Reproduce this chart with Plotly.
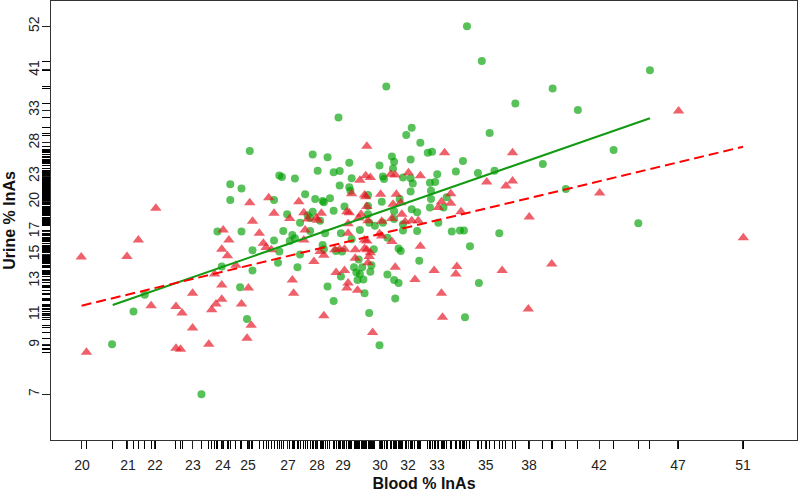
import plotly.graph_objects as go

# green circles: blood % InAs vs urine % InAs
green_blood = [25.2, 27.6, 28.2, 27.8, 26.3, 26.4, 26.9, 24.5, 24.9, 27.3, 24.5, 26.1, 27.7, 28.0, 28.05, 28.3,
               26.6, 27.1, 27.4, 27.6, 27.5, 27.9, 24.05, 24.9, 26.45, 26.8, 26.9, 27.5, 28.1, 26.1, 26.7, 25.3,
               26.3, 27.1, 28.0, 28.05, 26.25, 27.0, 25.3, 24.2, 24.85, 28.2,
               30.95, 31.05, 31.8, 32.6, 32.8, 34.3, 29.1, 30.4, 31.0, 28.45, 28.7, 29.2, 30.55, 30.6, 31.45, 31.8,
               33.05, 33.95, 31.9, 32.7, 32.95, 28.7, 29.1, 29.15, 31.8, 32.75, 29.9, 30.5, 31.3, 32.75, 33.5, 35.05,
               28.9, 29.9, 28.45, 29.9, 31.05, 31.85, 32.1, 32.7, 33.35, 31.05, 29.95, 30.2, 30.55, 31.45, 33.1, 28.75,
               29.55, 31.45, 32.1, 33.75, 34.15, 34.35, 29.2, 30.75, 30.15, 31.25, 31.35, 34.65, 28.55, 28.8, 32.2, 29.5,
               29.3, 29.65, 30.05, 29.4, 29.55, 30.0, 30.75, 28.75, 29.7, 29.45, 31.05, 31.25, 35.1, 29.75, 31.1,
               30.7, 28.65, 31.85, 31.6, 32.25, 35.25, 34.5, 44.95, 39.05, 37.0, 40.5, 35.65, 42.65, 38.5, 35.9, 39.8,
               44.2, 36.15, 25.1, 28.45, 29.95, 30.4, 34.4, 23.5, 21.65, 21.3, 20.65]
green_urine = [26.4, 25.9, 25.5, 23.7, 23.1, 22.9, 22.7, 22.0, 21.5, 20.85, 20.2, 20.2, 20.3, 20.1, 19.95, 20.4,
               18.7, 17.85, 18.6, 18.95, 18.3, 18.05, 17.0, 17.0, 17.05, 16.7, 16.4, 17.05, 16.85, 16.2, 16.15, 15.35,
               15.25, 15.0, 15.8, 15.45, 14.35, 14.0, 13.75, 14.05, 12.55, 12.6,
               25.6, 24.9, 25.2, 26.15, 26.3, 25.0, 24.75, 24.4, 24.0, 23.5, 23.65, 22.75, 22.95, 22.65, 22.85, 22.75,
               23.25, 23.6, 22.1, 22.2, 22.3, 21.85, 21.65, 21.25, 21.15, 21.25, 20.75, 20.0, 20.3, 20.3, 20.5, 23.4,
               19.5, 19.55, 19.05, 18.7, 19.0, 19.2, 18.9, 19.4, 19.4, 18.2, 17.85, 17.55, 17.85, 17.7, 17.85, 16.85,
               17.15, 17.1, 17.05, 17.0, 17.1, 17.1, 16.3, 16.45, 15.45, 15.5, 15.3, 15.7, 15.3, 15.25, 14.5, 14.6,
               14.0, 14.0, 14.15, 13.6, 13.5, 13.65, 13.45, 13.3, 13.1, 13.05, 13.05, 12.85, 12.85, 12.15, 11.8,
               37.5, 31.7, 29.95, 28.8, 27.6, 43.1, 52.1, 41.0, 37.1, 34.2, 33.0, 29.1, 26.55, 24.6, 23.7, 21.45,
               17.8, 16.85, 10.55, 11.65, 10.9, 9.15, 10.65, 7.0, 12.05, 11.0, 9.2]

# red triangles
red_blood = [25.2, 25.9, 27.05, 26.1, 26.7, 27.25, 27.4, 27.75, 27.8, 27.95, 25.3, 24.25, 25.55, 27.3, 24.45, 25.7,
             25.8, 27.25, 24.2, 24.4, 26.0, 27.9, 28.05, 27.65, 24.7, 23.95, 26.8, 24.2, 25.15, 26.85, 23.2, 24.2,
             33.4, 29.8, 30.0, 29.55, 30.9, 31.1, 31.7, 32.25, 29.2, 29.75, 29.8, 30.45, 31.15, 29.85, 31.0, 31.35,
             33.25, 33.7, 33.7, 33.1, 29.0, 29.1, 29.6, 29.5, 31.4, 31.55, 31.85, 32.15, 30.5, 30.95, 29.9, 29.05,
             34.2, 30.4, 30.5, 29.05, 29.75, 29.85, 30.95, 28.5, 28.7, 28.9, 29.35, 29.75, 29.85, 32.25, 30.0, 29.95,
             29.35, 29.9, 31.1, 32.9, 34.0, 33.95, 32.0, 28.55, 28.9, 29.05, 29.0, 29.45, 33.25,
             29.85, 46.85, 36.85, 35.5, 36.5, 36.85, 41.8, 37.75, 51.45, 36.3, 39.0, 37.7, 24.0, 23.85, 24.9, 22.85,
             23.2, 23.75, 25.1, 25.25, 28.05, 30.1, 33.3, 22.8, 22.0, 21.45, 19.75, 21.1, 21.85, 22.65, 19.9, 22.65]
red_urine = [19.9, 20.45, 20.0, 18.8, 18.25, 18.85, 18.2, 18.3, 18.1, 18.8, 18.0, 17.15, 16.85, 17.15, 16.25, 15.95,
             15.6, 16.25, 15.45, 14.9, 15.4, 15.25, 14.95, 14.45, 14.15, 13.5, 13.05, 12.7, 12.5, 12.15, 12.15, 11.75,
             26.15, 23.05, 22.85, 22.5, 23.25, 23.15, 23.45, 23.05, 20.9, 20.75, 20.55, 20.85, 20.85, 19.5, 19.75, 19.9,
             20.0, 20.9, 19.85, 19.4, 18.95, 18.85, 18.7, 18.3, 18.7, 17.95, 18.05, 18.05, 18.0, 18.25, 18.05, 17.75,
             18.95, 16.8, 16.6, 16.85, 16.25, 16.15, 16.1, 15.4, 15.45, 15.45, 15.4, 15.5, 15.4, 15.7, 15.15, 14.85,
             14.7, 14.35, 14.0, 13.75, 14.05, 13.5, 13.1, 13.6, 13.75, 12.85, 12.5, 12.35, 12.15,
             27.1, 32.85, 26.15, 22.3, 21.8, 22.4, 21.0, 18.4, 16.45, 13.75, 14.25, 11.15, 11.45, 11.1, 11.45, 10.9,
             10.05, 9.2, 9.5, 10.2, 10.75, 9.8, 10.65, 8.95, 19.3, 16.25, 14.8, 14.85, 11.35, 11.3, 8.8, 9.0]

# fitted lines (end points, log-log)
green_fit_blood = [20.67, 44.95]
green_fit_urine = [11.39, 31.55]
red_fit_blood = [19.76, 51.43]
red_fit_urine = [11.35, 27.02]

# axis ticks (true values, rounded labels)
x_tickvals = [19.77, 21.13, 21.97, 23.21, 24.24, 25.14, 26.63, 27.77, 28.84, 30.42, 31.68, 33.04, 35.45,
              37.74, 41.76, 46.81, 51.42]
x_ticktext = ["20", "21", "22", "23", "24", "25", "27", "28", "29", "30", "32", "33", "35", "38", "42", "47", "51"]
y_tickvals = [7.0, 9.16, 10.8, 13.0, 15.0, 17.0, 20.0, 23.0, 27.6, 33.0, 41.06, 52.1]
y_ticktext = ["7", "9", "11", "13", "15", "17", "20", "23", "28", "33", "41", "52"]

fig = go.Figure()
fig.add_trace(go.Scatter(x=green_blood, y=green_urine, mode="markers",
                         marker=dict(symbol="circle", size=8, color="rgba(0,160,0,0.65)", line_width=0)))
fig.add_trace(go.Scatter(x=red_blood, y=red_urine, mode="markers",
                         marker=dict(symbol="triangle-up", size=10, color="rgba(230,20,35,0.68)", line_width=0)))
fig.add_trace(go.Scatter(x=green_fit_blood, y=green_fit_urine, mode="lines",
                         line=dict(color="#129a12", width=2)))
fig.add_trace(go.Scatter(x=red_fit_blood, y=red_fit_urine, mode="lines",
                         line=dict(color="#ff0000", width=2, dash="10px,5px")))

axis_style = dict(type="log", showgrid=False, zeroline=False, showline=True, mirror=True,
                  linecolor="#333333", linewidth=1, ticks="outside", ticklen=8, tickcolor="#222222",
                  tickfont=dict(size=14, color="#222222"), automargin=False)

fig.update_layout(
    width=800, height=493,
    margin=dict(l=51, r=3, t=1, b=53),
    paper_bgcolor="white", plot_bgcolor="white",
    font=dict(family="Liberation Sans, Arial, sans-serif", color="#111111"),
    showlegend=False,
)
fig.update_xaxes(axis_style, range=[1.27657, 1.74509], tickmode="array", tickvals=x_tickvals, ticktext=x_ticktext,
                 ticklabelstandoff=4,
                 title=dict(text="<b>Blood % InAs</b>", font=dict(size=16), standoff=6),
                 # rug of all blood values
                 minor=dict(tickmode="array", tickvals=green_blood + red_blood, ticks="outside", ticklen=8,
                            tickcolor="black", tickwidth=1, showgrid=False))
fig.update_yaxes(axis_style, range=[0.73674, 1.77687], tickmode="array", tickvals=y_tickvals, ticktext=y_ticktext,
                 tickangle=-90, ticklabelstandoff=-3,
                 title=dict(text="<b>Urine % InAs</b>", font=dict(size=16), standoff=6),
                 # rug of all urine values
                 minor=dict(tickmode="array", tickvals=green_urine + red_urine, ticks="outside", ticklen=8,
                            tickcolor="black", tickwidth=1, showgrid=False))

fig.write_html("out.html", post_script="document.body.style.margin='0';",
               config={"displayModeBar": False})
